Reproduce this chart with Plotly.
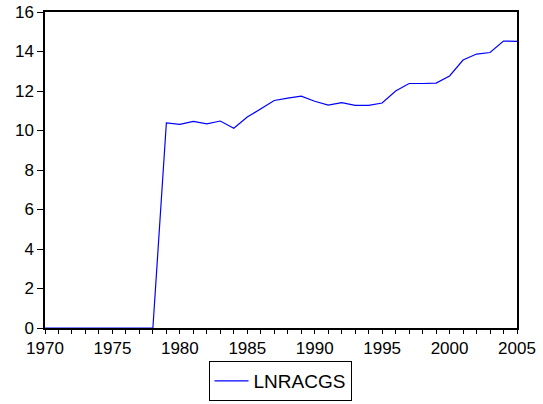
import plotly.graph_objects as go

years = list(range(1970, 2006))
lnracgs = [0, 0, 0, 0, 0, 0, 0, 0, 0,
           10.39, 10.31, 10.46, 10.34, 10.48, 10.11, 10.68, 11.12, 11.52, 11.64, 11.74,
           11.48, 11.29, 11.41, 11.27, 11.27, 11.39, 12.0, 12.38, 12.38, 12.40,
           12.76, 13.57, 13.87, 13.95, 14.53, 14.51]
x_ticks = [1970, 1975, 1980, 1985, 1990, 1995, 2000, 2005]
y_ticks = [0, 2, 4, 6, 8, 10, 12, 14, 16]

fig = go.Figure()
fig.add_trace(go.Scatter(x=years, y=lnracgs, mode="lines", name="LNRACGS",
                         line=dict(color="#0000ff", width=1.2)))

tick_font = dict(family="Liberation Sans, Arial, sans-serif", size=17, color="black")
leg_font = dict(family="Liberation Sans, Arial, sans-serif", size=19, color="black")
fig.update_layout(
    width=543, height=404,
    margin=dict(l=44.5, r=26, t=12, b=75.5),
    paper_bgcolor="white", plot_bgcolor="white",
    font=tick_font,
    showlegend=True,
    legend=dict(x=280 / 543, xref="container", xanchor="center",
                y=(404 - 401) / 404, yref="container", yanchor="bottom",
                orientation="h", bordercolor="black", borderwidth=1,
                font=leg_font, itemwidth=34),
    xaxis=dict(range=[1970, 2005], tickvals=x_ticks, showgrid=False, zeroline=False,
               automargin=False,
               showline=True, linecolor="black", linewidth=1.5, mirror=True,
               ticks="outside", ticklen=4, tickcolor="black", tickwidth=1,
               minor=dict(dtick=1, ticks="outside", ticklen=4, tickcolor="black", tickwidth=1),
               tickfont=tick_font),
    yaxis=dict(range=[0, 16], tickvals=y_ticks, showgrid=False, zeroline=False,
               automargin=False,
               showline=True, linecolor="black", linewidth=1.5, mirror=True,
               ticks="outside", ticklen=6, tickcolor="black", tickwidth=1,
               tickfont=tick_font),
)
fig.write_html("out.html", config={"displayModeBar": False},
               post_script="document.body.style.margin='0';")
